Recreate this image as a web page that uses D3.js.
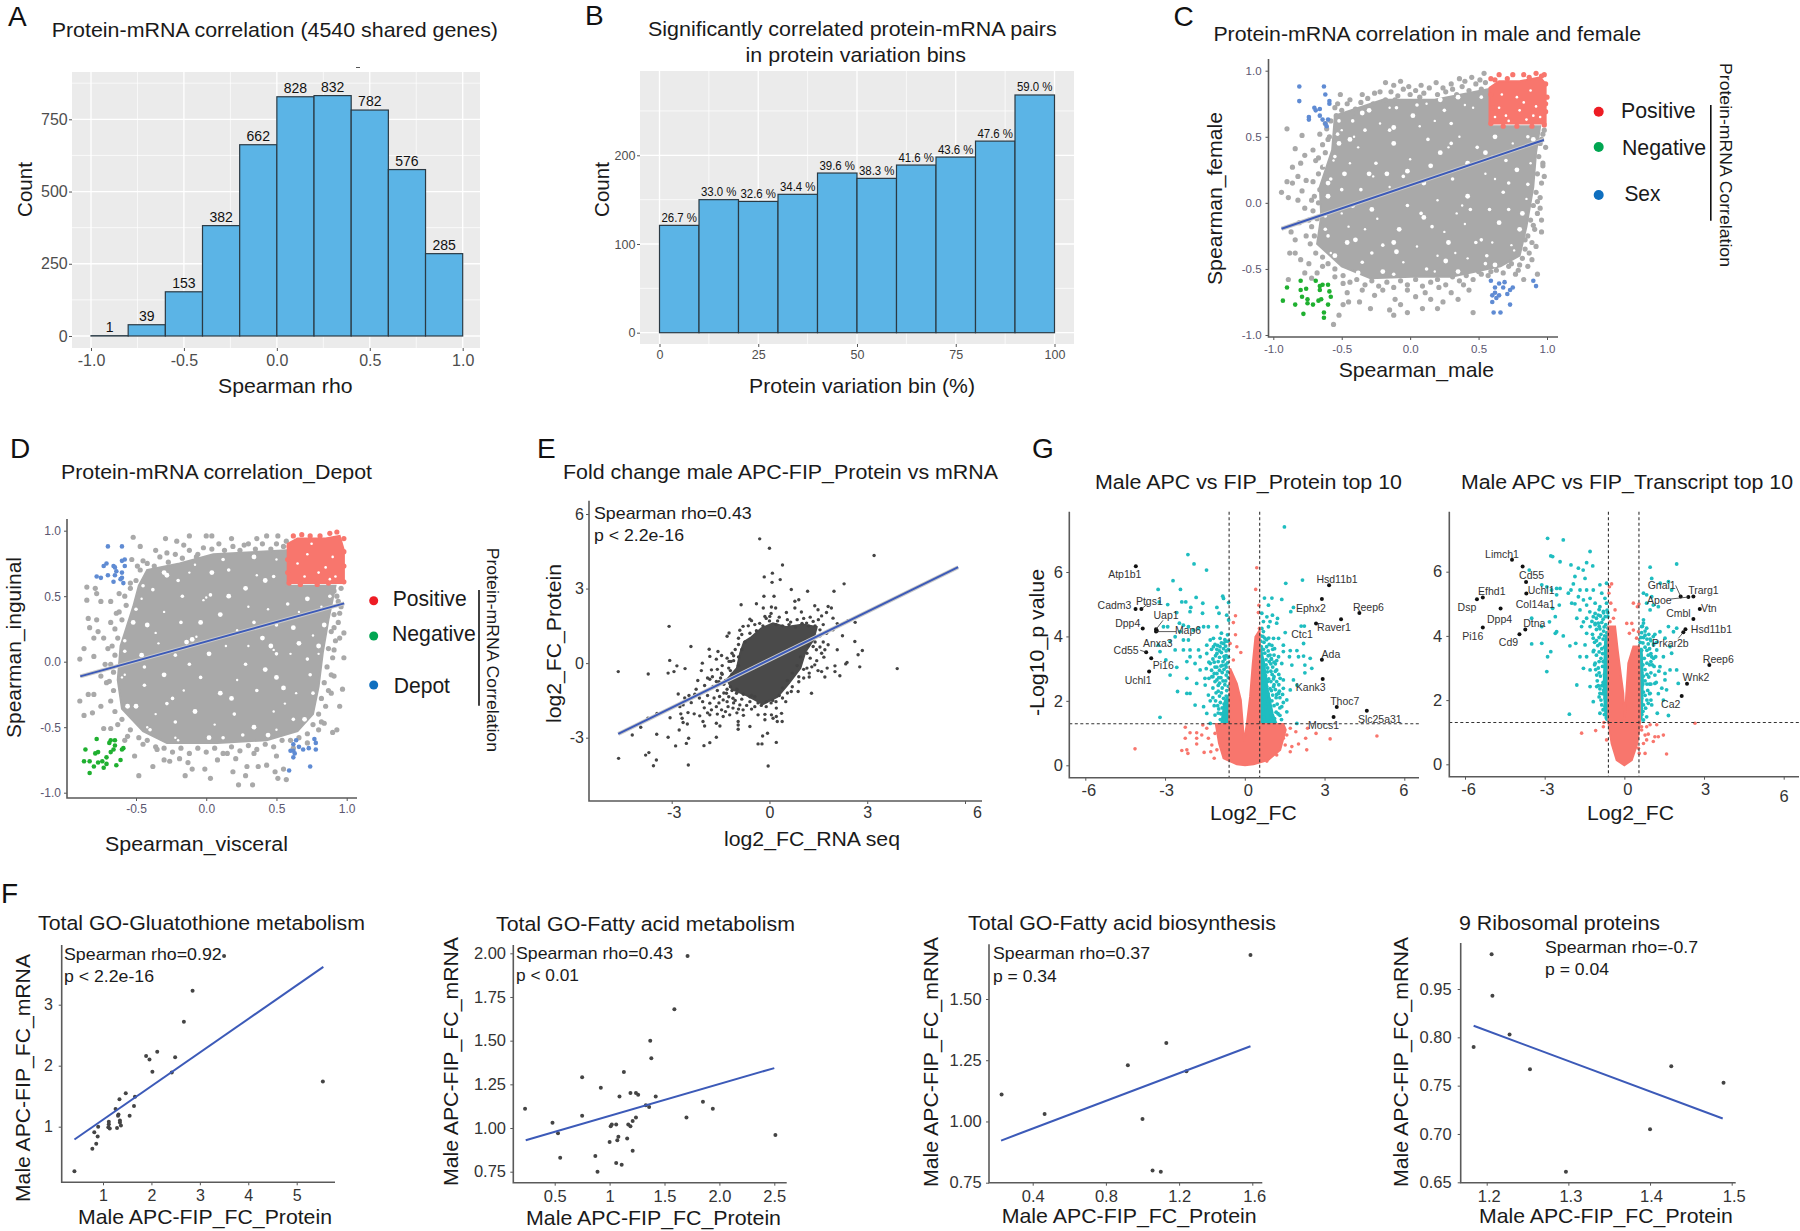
<!DOCTYPE html>
<html>
<head>
<meta charset="utf-8">
<script src="https://cdn.jsdelivr.net/npm/d3@7"></script>
<style>
  html, body { margin: 0; background: #fff; }
  svg { display: block; }
  text { font-family: "Liberation Sans", Arial, sans-serif; }
</style>
</head>
<body>
<script>
// A: histogram
const aBins = [-1, -0.8, -0.6, -0.4, -0.2, 0, 0.2, 0.4, 0.6, 0.8, 1];
const aCounts = [1, 39, 153, 382, 662, 828, 832, 782, 576, 285];
// B: histogram
const bBins = [0, 10, 20, 30, 40, 50, 60, 70, 80, 90, 100];
const bCounts = [121, 150, 148, 156, 180, 174, 189, 198, 216, 268];
const bLabels = ["26.7 %", "33.0 %", "32.6 %", "34.4 %", "39.6 %", "38.3 %", "41.6 %", "43.6 %", "47.6 %", "59.0 %"];

// C: male vs female
const cCore = [[-.55,.66],[-.2,.78],[.18,.78],[.57,.86],[.59,.58],[.95,.58],[.92,.38],[.9,.12],[.85,-.18],[.8,-.4],[.66,-.48],[.3,-.56],[.01,-.56],[-.29,-.57],[-.5,-.48],[-.68,-.31],[-.65,-.1],[-.66,.12],[-.57,.4]];
const cLoose = [[-.9,.56],[-.94,.08],[-.9,.16],[-.86,.15],[-.89,.04],[-.82,.02],[-.79,.51],[-.84,.41],[-.8,.3],[-.86,.27],[-.77,.36],[-.71,.4],[-.69,.32],[-.82,.2],[-.76,.17],[-.79,.09],[-.72,.02],[-.77,-.04],[-.74,-.13],[-.81,-.15],[-.87,-.22],[-.84,-.28],[-.88,-.38],[-.84,-.38],[-.76,-.25],[-.8,-.43],[-.74,-.46],[-.68,-.53],[-.89,-.58],[-.77,-.53],[-.72,-.57],[-.64,-.48],[-.51,.82],[-.53,.75],[-.46,.75],[-.35,.82],[-.26,.83],[-.18,.91],[-.07,.92],[-.12,.89],[-.01,.88],[.08,.89],[.19,.91],[.24,.87],[.36,.94],[.45,.95],[.54,.98],[.3,.9],[.4,.92],[.51,.93],[-.54,.66],[-.42,.68],[-.29,.73],[-.11,.78],[.07,.8],[-.62,.6],[-.66,.52],[-.6,.48],[.96,-.13],[.93,.01],[.95,-.04],[.9,-.17],[.96,-.22],[.92,-.33],[.89,-.43],[.84,-.28],[.86,-.48],[.79,-.51],[.74,-.46],[.93,-.54],[.83,-.58],[.77,-.54],[.52,-.54],[.43,-.66],[.46,-.83],[.35,-.73],[.3,-.68],[.24,-.75],[.15,-.73],[.2,-.8],[.09,-.8],[.11,-.68],[.04,-.71],[-.02,-.83],[-.07,-.77],[-.12,-.85],[-.15,-.81],[-.11,-.73],[-.29,-.8],[-.26,-.7],[-.37,-.75],[-.45,-.75],[-.49,-.77],[-.52,-.85],[-.56,-.92],[-.46,-.68],[-.35,-.66],[-.2,-.66],[-.02,-.66],[.21,-.64],[.39,-.62],[.59,-.52],[-.55,-.56],[-.49,-.61],[.97,.3],[.98,.2],[.95,.45],[.97,.52],
  [-.58,.62],[-.55,.72],[-.5,.7],[-.44,.78],[-.4,.71],[-.36,.76],[-.31,.79],[-.27,.75],[-.22,.84],[-.18,.78],[-.14,.84],[-.09,.81],[-.05,.86],[0,.82],[.04,.85],[.1,.83],[.14,.87],[.2,.82],[.26,.84],[.31,.86],[.34,.82],[.38,.88],[.43,.85],[.48,.9],[.52,.86],[.55,.91],[.98,.55],[.96,.48],[.99,.42],[.94,.35],[.97,.28],[.93,.22],[.96,.15],[.92,.08],[.95,.04],[.9,-.02],[.93,-.08],[.88,-.13],[.91,-.2],[.86,-.25],[.89,-.3],[.84,-.35],[.87,-.38],[.82,-.42],[.8,-.47],[.72,-.48],[.68,-.53],[.63,-.51],[.57,-.55],[.5,-.52],[.46,-.58],[.41,-.55],[.36,-.59],[.31,-.56],[.26,-.62],[.2,-.58],[.15,-.6],[.09,-.63],[.04,-.58],[-.02,-.62],[-.07,-.59],[-.12,-.64],[-.17,-.6],[-.23,-.63],[-.28,-.59],[-.33,-.62],[-.39,-.58],[-.44,-.6],[-.49,-.55],[-.55,-.5],[-.6,-.46],[-.64,-.41],[-.69,-.38],[-.73,-.31],[-.7,-.25],[-.72,-.18],[-.68,-.12],[-.71,-.06],[-.67,0],[-.7,.05],[-.66,.1],[-.71,.16],[-.67,.22],[-.64,.27],[-.67,.34],[-.62,.38],[-.64,.44],[-.59,.5],[-.61,.56]];
const cHoles = [[-.5,.55],[-.42,.62],[-.3,.7],[-.22,.6],[-.1,.72],[.02,.66],[.12,.75],[.25,.7],[.35,.8],[.46,.72],[-.55,.35],[-.48,.22],[-.38,.42],[-.25,.3],[-.12,.45],[0,.33],[.13,.48],[.22,.38],[.36,.5],[.49,.42],[.62,.5],[.75,.45],[.86,.5],[-.6,.05],[-.5,-.08],[-.36,.1],[-.28,-.05],[-.15,.12],[-.02,-.02],[.1,.15],[.2,.02],[.31,.18],[.42,.05],[.55,.22],[.68,.08],[.78,.25],[.85,.03],[-.6,-.25],[-.46,-.3],[-.33,-.2],[-.2,-.32],[-.08,-.2],[.05,-.33],[.16,-.18],[.28,-.3],[.4,-.16],[.52,-.28],[.65,-.15],[.74,-.32],[-.35,-.45],[-.2,-.52],[-.05,-.45],[.12,-.5],[.26,-.44],[.42,-.42],[.56,-.4],[.62,-.47],[-.63,.28],[-.58,.18],[-.52,.45],[-.44,.3],[-.62,-.1],[-.55,-.4],[-.45,-.18],[-.33,.55],[-.17,.22],[.07,.58],[.3,.6],[.42,.3],[.6,.35],[.72,-.05],[.8,-.2],[.34,-.08],[.58,-.05],[-.1,-.37],[.2,-.4],
  [-.52,.62],[-.35,.68],[-.15,.72],[.05,.74],[.22,.78],[.4,.74],[.52,.8],[.9,.48],[.88,.3],[.86,.14],[.82,-.08],[.76,-.36],[.55,-.46],[.35,-.52],[.18,-.52],[-.12,-.54],[-.38,-.53],[-.58,-.38],[-.62,-.2],[-.6,.15],[-.56,.32],[-.53,.52],[-.44,.48],[-.41,.5],[-.15,.55],[-.12,.57],[.28,.42],[.3,.45],[.55,.38],[.18,.62],[-.05,.2],[-.02,.24],[.38,-.02],[.44,-.05],[.15,.28],[.62,.18],[.7,.32],[-.3,.22],[-.27,.2],[-.5,.1],[-.42,-.02],[-.24,-.12],[.08,-.08],[.1,-.11],[.25,-.22],[.48,-.3],[-.12,-.3],[.33,-.38],[-.28,-.38],[-.4,-.28],[.6,-.3],[.72,.15]];
const cRed = [[.58,.6],[.58,.87],[.65,.92],[.8,.92],[.95,.95],[.99,.9],[.99,.6]];
const cRedLoose = [[.65,.97],[.75,.97],[.92,.98],[.98,.97],[.83,.97],[.59,.94],[.62,.93],[.71,.94],[.99,.9],[1,.8],[.99,.69],[.98,.59],[.59,.6],[.68,.58],[.78,.58],[.89,.58],[.96,.96],[.87,.95],[.99,.75],[.6,.72],[.59,.82]];
const cRedHoles = [[.65,.72],[.7,.66],[.8,.7],[.85,.63],[.92,.73],[.88,.85],[.72,.62],[.78,.8],[.95,.65],[.67,.82],[.9,.66],[.62,.65],[.83,.76]];
const cBlue = [[-.81,.88],[-.63,.88],[-.62,.82],[-.81,.77],[-.59,.77],[-.59,.75],[-.7,.72],[-.69,.7],[-.66,.71],[-.74,.65],[-.74,.63],[-.66,.66],[-.64,.63],[-.6,.63],[-.62,.6],[-.61,.58],[.59,-.59],[.65,-.61],[.69,-.6],[.62,-.64],[.68,-.64],[.75,-.64],[.73,-.66],[.71,-.69],[.62,-.68],[.65,-.7],[.6,-.7],[.63,-.72],[.6,-.75],[.73,-.77],[.61,-.83],[.66,-.83],[.9,-.59],[.92,-.63]];
const cGreen = [[-.9,-.64],[-.8,-.59],[-.69,-.59],[-.66,-.63],[-.64,-.62],[-.6,-.62],[-.59,-.67],[-.58,-.71],[-.8,-.66],[-.76,-.65],[-.66,-.66],[-.79,-.71],[-.75,-.73],[-.93,-.74],[-.84,-.77],[-.75,-.76],[-.71,-.77],[-.67,-.74],[-.65,-.73],[-.6,-.77],[-.78,-.84],[-.63,-.83],[-.63,-.87]];
const cFitX = [-0.94, 0.977];
const cFitY = [-0.196, 0.476];

// D: visceral vs inguinal
const dCore = [[-.42,.7],[-.19,.75],[.05,.82],[.57,.85],[.57,.58],[.92,.58],[.87,.32],[.83,.07],[.8,-.19],[.76,-.4],[.65,-.53],[.43,-.6],[.08,-.62],[-.28,-.62],[-.45,-.53],[-.6,-.36],[-.63,-.14],[-.61,.12],[-.52,.42],[-.48,.58]];
const dLoose = [[-.52,.95],[-.47,.88],[-.36,.85],[-.29,.94],[-.21,.92],[-.12,.96],[-.16,.89],[0,.96],[.04,.96],[.18,.94],[.36,.94],[.43,.96],[.51,.96],[.57,.92],[.27,.89],[-.07,.8],[-.28,.83],[-.45,.77],[-.53,.78],[-.49,.73],[-.85,.57],[-.79,.56],[-.85,.47],[-.78,.52],[-.75,.46],[-.84,.33],[-.78,.32],[-.83,.26],[-.77,.23],[-.8,.18],[-.87,.1],[-.9,.02],[-.8,.04],[-.73,.18],[-.68,.3],[-.64,.37],[-.68,.46],[-.62,.52],[-.54,.6],[-.9,-.3],[-.87,-.41],[-.84,-.25],[-.8,-.25],[-.81,-.39],[-.75,-.34],[-.73,-.51],[-.68,-.51],[-.63,-.48],[-.71,-.16],[-.75,-.11],[-.56,-.57],[-.51,-.72],[-.48,-.87],[-.38,-.8],[-.45,-.63],[-.35,-.67],[-.3,-.75],[-.26,-.76],[-.15,-.87],[-.1,-.82],[.03,-.89],[-.01,-.82],[-.19,-.74],[-.13,-.77],[.19,-.84],[.23,-.94],[.29,-.8],[.28,-.87],[.33,-.94],[.37,-.8],[.43,-.79],[.49,-.84],[.51,-.89],[.57,-.9],[.55,-.82],[.21,-.74],[.08,-.75],[.15,-.7],[.34,-.7],[.5,-.72],[.84,-.47],[.9,-.54],[.93,-.52],[.95,-.34],[.97,-.21],[.89,-.24],[.91,-.11],[.98,.03],[.91,.09],[.95,.18],[.91,.26],[.98,.22],[.95,.37],[.91,.54],[.94,.46],[-.72,-.02],[-.7,.1],[-.58,-.6],[.72,-.62],[.62,-.66],[.8,-.52],
  [-.5,.62],[-.47,.7],[-.42,.75],[-.37,.73],[-.33,.8],[-.27,.76],[-.22,.82],[-.17,.79],[-.12,.85],[-.06,.82],[-.02,.87],[.04,.86],[.09,.9],[.13,.85],[.19,.88],[.24,.85],[.3,.9],[.35,.86],[.4,.9],[.46,.86],[.5,.9],[.55,.88],[.96,.56],[.93,.5],[.96,.42],[.91,.36],[.94,.3],[.89,.23],[.92,.16],[.87,.1],[.9,.03],[.86,-.04],[.89,-.1],[.84,-.16],[.87,-.22],[.82,-.28],[.85,-.34],[.8,-.4],[.82,-.46],[.76,-.48],[.72,-.55],[.66,-.58],[.6,-.6],[.54,-.6],[.48,-.65],[.42,-.63],[.36,-.67],[.3,-.64],[.24,-.68],[.18,-.65],[.12,-.7],[.06,-.66],[0,-.69],[-.06,-.66],[-.12,-.7],[-.18,-.66],[-.24,-.69],[-.3,-.66],[-.36,-.65],[-.42,-.6],[-.48,-.58],[-.54,-.52],[-.6,-.44],[-.65,-.38],[-.68,-.3],[-.66,-.22],[-.69,-.15],[-.66,-.08],[-.68,-.02],[-.65,.05],[-.67,.12],[-.63,.18],[-.65,.25],[-.6,.32],[-.62,.38],[-.57,.43],[-.58,.5],[-.54,.56]];
const dHoles = [[0,.49],[-.17,.5],[.04,.68],[.36,.66],[.48,.65],[-.1,.17],[.48,.09],[-.38,.55],[-.28,.66],[-.12,.68],[.16,.7],[.28,.56],[.44,.4],[.58,.44],[.72,.48],[.82,.42],[-.5,.4],[-.42,.28],[-.3,.38],[-.18,.3],[.1,.36],[.22,.24],[.34,.3],[.62,.26],[.76,.2],[-.58,.16],[-.46,.05],[-.34,.14],[-.22,.05],[.02,.06],[.14,.12],[.28,-.02],[.4,.18],[.6,.06],[.72,.02],[.8,.12],[-.58,-.1],[-.44,-.18],[-.3,-.1],[-.16,-.22],[-.04,-.12],[.1,-.24],[.22,-.14],[.36,-.22],[.5,-.12],[.64,-.24],[.74,-.1],[-.5,-.34],[-.36,-.4],[-.22,-.46],[-.08,-.38],[.06,-.48],[.2,-.4],[.34,-.5],[.48,-.38],[.62,-.44],[-.04,.3],[.3,.12],[-.24,-.28],[.55,-.2],[-.42,-.5],[.12,-.58],[.44,-.56],[-.2,-.6],
  [-.45,.58],[-.3,.68],[-.08,.74],[.12,.78],[.34,.8],[.5,.78],[.88,.5],[.84,.28],[.8,.06],[.76,-.24],[.7,-.44],[.5,-.52],[.26,-.56],[.02,-.58],[-.22,-.58],[-.4,-.52],[-.56,-.34],[-.6,-.12],[-.58,.08],[-.52,.3],[-.46,.48],[-.2,.62],[.42,.62],[.66,.38],[.5,.28],[.16,.5],[-.36,.22],[-.12,-.02],[.42,-.06],[.56,-.32],[-.28,-.32],[.18,-.28],[.3,.42],[-.44,-.04],[.66,.14],[-.02,.47],[.03,.51],[-.14,.15],[-.07,.19],[.5,.06],[.46,.12]];
const dRed = [[.58,.6],[.58,.9],[.65,.94],[.85,.94],[.95,.96],[.98,.85],[.98,.6]];
const dRedLoose = [[.62,.96],[.68,.97],[.88,.98],[.93,.99],[.98,.94],[.98,.84],[.98,.73],[.98,.61],[.59,.6],[.67,.59],[.79,.59],[.87,.6],[.59,.88],[.74,.96],[.81,.96],[.58,.78],[.58,.68]];
const dRedHoles = [[.72,.82],[.9,.8],[.85,.72],[.7,.65],[.65,.75],[.8,.68],[.92,.65],[.75,.9],[.88,.63]];
const dBlue = [[-.7,.88],[-.6,.88],[-.58,.78],[-.6,.77],[-.71,.75],[-.73,.73],[-.66,.73],[-.65,.72],[-.58,.73],[-.64,.69],[-.65,.66],[-.7,.66],[-.78,.65],[-.75,.64],[-.6,.68],[-.6,.64],[-.66,.61],[-.61,.63],[-.59,.6],[.64,-.6],[.77,-.59],[.62,-.63],[.66,-.65],[.69,-.67],[.73,-.66],[.78,-.62],[.78,-.67],[.6,-.68],[.62,-.68],[.63,-.7],[.62,-.73],[.59,-.83],[.74,-.8]];
const dGreen = [[-.78,-.59],[-.86,-.67],[-.65,-.6],[-.68,-.6],[-.69,-.62],[-.65,-.64],[-.59,-.66],[-.6,-.67],[-.66,-.67],[-.68,-.69],[-.77,-.69],[-.79,-.7],[-.71,-.73],[-.61,-.75],[-.87,-.76],[-.83,-.76],[-.77,-.77],[-.74,-.76],[-.71,-.78],[-.8,-.8],[-.73,-.81],[-.64,-.79],[-.83,-.85]];
const dFitX = [-0.897, 0.982];
const dFitY = [-0.112, 0.445];

// E: fold change
const eCore = [[-.55,1.05],[-.25,1.4],[.11,1.6],[.52,1.45],[1.03,1.55],[1.45,1.45],[1.35,.95],[1.1,.45],[.95,-.2],[.6,-.8],[.25,-1.35],[-.2,-1.65],[-.7,-1.3],[-1.15,-1.05],[-1.3,-.65],[-1,-.2],[-.9,.4],[-.78,.85]];
const ePoints = [[-.3,5],[0,4.62],[3.21,4.33],[.4,3.95],[.09,3.62],[-.16,3.47],[.33,3.36],[.08,3.25],[2.29,3.19],[.67,2.96],[1.17,2.89],[1.98,2.89],[-.17,2.69],[.14,2.69],[.78,2.49],[.9,2.55],[-.87,2.35],[-.4,2.39],[-.19,2.22],[.06,2.26],[.19,2.22],[1.39,2.31],[1.8,2.28],[1.9,2.22],[.52,2.04],[.78,2.22],[.98,2.06],[1.49,2.15],[1.75,2.04],[-.6,1.77],[-.55,1.71],[-.14,1.88],[.01,1.88],[1.95,1.81],[-.81,1.48],[-.91,1.32],[-1.24,1.21],[-1.3,1.08],[-3.08,1.48],[-2.41,.67],[-1.85,.56],[-1.58,.47],[-1.83,.27],[-1.47,.31],[-1.63,.16],[-1.24,.07],[-1.18,.07],[-2.06,0],[-3.06,.11],[-2.84,-.11],[-2.59,-.22],[-2.93,-.34],[-3.11,-.4],[-3.72,-.44],[-4.64,-.34],[-2.09,-.3],[-1.78,-.27],[-1.47,-.4],[-1.83,-.65],[-1.63,-.74],[-1.99,-.9],[-1.73,-.94],[-2.8,-1.24],[-2.47,-1.3],[-2.29,-1.25],[-2.4,-1.59],[-2.65,-1.68],[-2.75,-1.75],[-3.45,-2.02],[-3.73,-2.22],[-2.72,-2.04],[-2.5,-1.99],[-2.31,-2.04],[-2.14,-2.12],[-2.68,-2.22],[-2.65,-2.39],[-2.52,-2.45],[-2.04,-2.35],[-1.63,-2.42],[-1.52,-2.53],[-1.99,-2.53],[-2.77,-2.69],[-3.46,-2.86],[-4.21,-2.89],[-3.95,-2.58],[-3.11,-2.98],[-2.88,-3.33],[-2.55,-3.23],[-2.48,-3.02],[-2.01,-3.32],[-1.83,-3.2],[-1.63,-2.98],[-4.63,-3.83],[-3.8,-3.7],[-3.7,-3.6],[-3.47,-3.9],[-3.56,-4.13],[-2.49,-4.1],[-.04,-4.14],[-.96,-2.35],[-.96,-2.49],[-.96,-2.66],[-.6,-2.55],[-.21,-2.93],[-.06,-2.82],[-.35,-3.25],[-.23,-3.25],[.21,-3.19],[-.14,-2.28],[.06,-2.08],[.21,-2.15],[.37,-2.02],[.11,-2.22],[.24,-2.35],[.39,-2.35],[-.35,-2.08],[-.14,-2.06],[.21,-1.81],[1.29,-1.21],[.88,-1.14],[.67,-1.14],[.5,-1.55],[3.92,-.22],[2.85,.51],[2.62,.87],[2.72,.34],[2.77,-.15],[2.38,.03],[2.34,-.03],[2.16,-.51],[2.01,-.34],[2.01,-.11],[1.77,-.2],[1.7,-.56],[1.6,-.34],[1.49,-.3],[1.39,-.07],[1.22,-.56],[1.22,-.4],[2.08,.54],[2.24,1.1],[2.63,1.64],[2.41,1.71],[2.08,1.59],[1.95,1.34],[1.8,.74],[1.7,.54],[1.6,.4],[1.67,.24],[1.44,.54],[1.34,.67],[1.55,1.34],[1.34,1.68],[1.14,1.61],[-1.53,-1.34],[-1.42,-1.48],[-1.63,-1.75],[-1.47,-1.88],[-1.27,-1.75],[-1.12,-1.81],[-.91,-1.68],[-.81,-1.88],[-.6,-1.55],[-.45,-1.75],[-1.83,-2.08],[-1.78,-1.88],[-1.22,-2.08],[-1.42,-2.15],[-1.83,-1.61],[-1.12,-1.41],[-1.32,-1.21],[-1.01,-1.21],[-.6,1.2],[-.4,1.3],[-.2,1.5],[0,1.7],[.2,1.55],[.4,1.5],[.6,1.55],[.8,1.45],[1,1.6],[1.2,1.5],[1.4,1.5],[1.55,1.1],[1.4,.85],[1.2,.7],[1.15,.4],[.95,.25],[.85,-.1],[.7,-.4],[.55,-.7],[.4,-1],[.3,-1.3],[.1,-1.5],[-.1,-1.55],[-.35,-1.6],[-.55,-1.3],[-.8,-1.25],[-1,-1.05],[-1.2,-.95],[-1.35,-.7],[-1.15,-.45],[-.95,-.1],[-.95,.25],[-.85,.55],[-.75,.85],[-1.5,-.6],[-1.4,-.85],[-1.6,-.9],[-1.3,-1.05],[-1.2,-.3],[-1.1,.1],[1.1,.9],[1.25,.2],[1.05,-.25],[.9,-.55],[-.65,1.5],[.55,1.75],[.3,1.85],
  [-1.4,-1.2],[-1.6,-1.1],[-1.25,-1.35],[-1.05,-1.5],[-.85,-1.45],[-.7,-1.7],[-.55,-1.85],[-.95,-1.85],[-1.1,-1.6],[-1.3,-1.55],[-1.55,-1.6],[-1.7,-1.4],[-1.9,-1.3],[-2.05,-1.55],[-2,-1.8],[-1.9,-2],[-1.6,-2.05],[-1.35,-1.95],[-1,-2],[-.8,-2.1],[-.6,-1.35],[-.45,-1.35],[-.25,-1.7],[-.1,-1.75],[.05,-1.6],[.2,-1.55],[.4,-1.4],[.55,-1.2],[.7,-.95],[.9,-.75],[1.05,-.6],[1.15,-.2],[1.3,-.15],[1.45,.1],[1.55,.65],[1.65,.85],[1.75,1.2],[1.65,1.55],[1.5,1.75],[1.6,1.9],[-.3,1.6],[-.45,1.55],[-.1,1.8],[.05,2],[.25,1.7],[.65,1.65],[.85,1.75],[1.05,1.8],[1.25,1.85],[-.95,.75],[-1.05,.55],[-1.15,.4],[-1.3,.2],[-1.45,-.1],[-1.6,-.25],[-1.75,-.55],[-1.9,-.6],[-2.2,-.7],[-1.25,-.2],[-1.1,.3],[-.95,1],[-.85,1.15],[-1.55,-.75],[-1.15,-1.1],[-1.45,-.45],[-2.25,-1.05],[-2.15,-1.4],[-2.6,-1.4],[-3.05,-2.2]];
const eFitX = [-4.64, 5.79];
const eFitY = [-2.85, 3.86];

// G: volcano, protein
const g1Red = [[-1.09,1.28],[-.97,.68],[-.8,.22],[-.3,.03],[.01,0],[.33,.03],[.89,.17],[1.33,.48],[1.54,1.1],[1.45,1.28],[.56,1.28],[.56,4.2],[.4,3.99],[.3,3.16],[.2,2.13],[.08,1.3],[-.03,.73],[-.08,1.3],[-.15,2.03],[-.3,2.54],[-.55,3.01],[-.59,1.28]];
const g1RedLoose = [[.45,6.13],[.41,5.46],[.53,4.97],[.51,4.74],[-.35,4.64],[-.43,4.43],[-.35,4.05],[-.55,3.78],[-.3,3.68],[-.15,3.5],[-.43,3.27],[.55,4.25],[-4.13,.51],[4.97,.91],[3.21,.82],[2.68,.99],[2.33,.48],[2.29,.84],[2.36,1.15],[1.92,1.04],[2.02,.66],[1.71,.42],[1.77,.58],[1.52,.63],[1.58,.94],[1.2,.32],[.83,.13],[1.71,1.15],[1.45,.84],[-1.58,1.25],[-2.24,1.18],[-2.06,1.01],[-1.81,1.01],[-2.24,.84],[-1.81,.84],[-1.81,.66],[-2.37,.46],[-2.18,.48],[-2.14,.37],[-1.53,.4],[-1.15,.22],[-1.24,.63],[-1.37,.84],[-1.12,.99],[-1.43,1.15],[-1.28,.42],[-1.05,.48],[-1.62,.94]];
const g1TealRight = [[.56,1.28],[.56,3.8],[.72,3.2],[.85,2.4],[1.05,1.6],[1.2,1.28]];
const g1TealLeft = [[-.59,1.28],[-.59,2.2],[-.75,2],[-.85,1.5],[-.88,1.28]];
const g1Teal = [[1.49,7.4],[-2.14,6.54],[-1.91,6.25],[-1.44,6.06],[-2.7,5.73],[-3.26,5.46],[-2.42,5.46],[2.17,5.75],[1.54,5.65],[-1.83,5.21],[-.83,5.25],[-.61,5.05],[-.8,5.18],[-2.37,5.07],[-2.22,5.07],[-2.9,4.99],[-3.22,5.07],[-1.58,5.03],[-2.03,4.9],[-1.05,4.9],[-2.06,4.77],[-.97,4.72],[-.68,4.66],[-.61,4.51],[-1.59,4.72],[-2.56,4.74],[.74,5.19],[1.02,5.19],[1.39,5.15],[.89,4.97],[1.83,4.9],[1.73,4.77],[.64,4.72],[.83,4.61],[1.04,4.66],[1.23,4.56],[.95,4.46],[1.2,4.41],[.7,4.46],[.64,4.25],[.89,4.3],[1.52,4.12],[2.12,4.32],[2.24,4.32],[.7,4.15],[1.08,3.94],[1.27,3.94],[2.21,3.78],[-2.9,4.3],[-3.06,4.3],[-2.46,4.41],[-2.31,4.35],[-2.12,4.3],[-1.93,4.2],[-1.74,4.25],[-1.55,4.3],[-1.37,4.3],[-1.05,4.3],[-2.43,4.15],[-2.12,3.89],[-2.31,3.89],[-2.62,3.99],[-2.81,3.84],[-3.25,3.73],[-3.19,3.53],[-2.62,3.58],[-2.31,3.58],[-2.06,3.58],[-1.74,3.58],[-1.43,3.73],[-1.18,3.94],[-.93,3.94],[-1.3,3.89],[-.93,3.68],[-.8,3.78],[-1.18,3.68],[-1.05,3.47],[-1.43,3.47],[-1.68,3.37],[-2.06,3.37],[-1.87,3.16],[-2.18,3.22],[-2.56,3.04],[-2.97,3.27],[-2.81,2.8],[-2.18,2.7],[-1.81,2.54],[-1.49,2.49],[-1.68,2.96],[-1.3,3.16],[-1.24,2.75],[-2.06,2.23],[-2.53,2.29],[-2.18,2.23],[-1.87,1.87],[-1.55,1.82],[-1.37,2.18],[-1.43,1.61],[-1.12,1.56],[-3.19,1.49],[-1.3,1.3],[1.45,3.73],[1.45,3.53],[1.71,3.56],[1.96,3.56],[1.68,3.37],[2.02,3.37],[2.21,3.39],[2.46,3.32],[1.27,3.37],[1.39,3.16],[1.77,3.11],[2.26,3.11],[2.52,3.01],[2.26,2.87],[1.2,2.96],[1.45,2.65],[1.83,2.65],[1.96,2.49],[1.45,2.39],[1.71,2.34],[1.27,2.23],[1.58,2.03],[1.39,1.82],[1.58,1.66],[1.96,1.3],[1.08,2.44],[1.33,2.7],[-.75,3.3],[-.7,3.05],[-.85,3.1],[-1.05,3.05],[-.95,3.35],[-.7,3.55],[-1.2,3.3],[-.75,3.9],[1,3.3],[1.05,3.6],[.9,3.95],[1.15,3.15],[1.2,2.6],[-1.2,2.4],[-1.3,2],[-1.15,1.85],
  [.62,1.4],[.72,1.5],[.85,1.42],[1,1.55],[1.12,1.45],[1.25,1.6],[1.38,1.42],[.65,1.75],[.8,1.8],[.95,1.72],[1.1,1.85],[1.22,1.9],[1.32,1.78],[.62,2.05],[.78,2.12],[.92,2.05],[1.05,2.18],[1.18,2.1],[.65,2.4],[.82,2.45],[.95,2.38],[1.15,2.35],[1.28,2.5],[.62,2.72],[.78,2.78],[.9,2.68],[1.03,2.82],[1.15,2.92],[1.28,2.82],[.65,3.05],[.8,3.12],[.92,3.22],[1.05,3.05],[1.1,3.42],[.62,3.35],[.75,3.48],[.88,3.55],[1.02,3.72],[.62,3.68],[.72,3.82],[.82,3.9],[.6,4.02],[.68,4],[.92,3.75],[1.12,3.62],[1.2,3.25],
  [.6,1.6],[.68,1.72],[.75,1.95],[.88,1.9],[1.02,2],[.6,2.25],[.72,2.3],[.88,2.22],[1,2.32],[1.1,2.5],[.62,2.55],[.72,2.55],[.85,2.6],[.98,2.6],[1.08,2.68],[.7,2.9],[.85,2.9],[.98,2.92],[.6,3],[.72,3.05],[.86,3.02],[.98,3.15],[.68,3.22],[.8,3.28],[1,3.3],[.6,3.5],[.7,3.6],[.82,3.68],[.95,3.42],[.6,3.85],[.75,3.95],[.88,3.4],[1.1,3.2],[1.1,2.75],[1.2,2.2],[1.32,2.1],[1.42,2.2],[1.3,2.3],[1.45,1.95],[1.18,1.65],[1.32,1.55],
  [-.65,1.4],[-.78,1.48],[-.92,1.42],[-1,1.62],[-.72,1.72],[-.85,1.78],[-1.02,1.85],[-.65,2],[-.8,2.08],[-.95,2.15],[-1.08,2.25],[-1.2,2.1],[-.68,2.32],[-.85,2.4],[-1,2.48],[-1.12,2.6],[-.72,2.62],[-.9,2.72],[-1.05,2.85],[-.65,2.9],[-.78,2.98],[-.95,2.95],[-1.12,3.05],[-1.25,2.95],[-.65,3.18],[-.82,3.22],[-1,3.22],[-.7,3.4],[-.88,3.5],[-1.1,3.4],[-.62,3.6],[-.8,3.62],[-1.02,3.72],[-.72,3.85],[-.65,4.05],[-.88,4.1],[-1.25,3.6],[-1.35,2.7],
  [-.62,1.55],[-.7,1.6],[-.9,1.6],[-.98,1.75],[-.62,1.85],[-.78,1.9],[-.92,1.95],[-1.1,2],[-.7,2.15],[-.88,2.25],[-1,2.3],[-.62,2.45],[-.75,2.5],[-.95,2.55],[-1.05,2.65],[-.62,2.72],[-.82,2.62],[-.98,2.72],[-1.2,2.75],[-.7,2.8],[-.85,2.88],[-1.15,2.85],[-.9,3.08],[-.72,3.12],[-1.15,3.2],[-.62,3.35],[-.78,3.38],[-.95,3.55],[-1.05,3.6],[-.72,3.7],[-.88,3.8],[-1.12,3.75],[-.62,3.85],[-1.35,3.2],[-1.45,3],[-1.5,2.7]];
const g1Genes = ["Atp1b1","Cadm3","Ptgs1","Dpp4","Uap1","Map6","Anxa3","Cd55","Pi16","Uchl1","Hsd11b1","Ephx2","Raver1","Reep6","Ctc1","Ada","Kank3","Thoc7","Slc25a31","Mocs1"];
const g1GeneX = [-4.1,-4.11,-3.89,-3.84,-3.34,-3.34,-3.31,-3.71,-3.52,-3.6,3.17,2.9,3.62,4.31,2.68,2.9,2.93,3.46,4.59,3.34];
const g1GeneY = [6.18,4.85,4.85,4.25,4.22,4.15,4.18,3.51,3.32,2.91,5.59,5.16,4.53,4.73,4.4,3.28,2.68,1.81,1.69,1.5];

// G: volcano, transcript
const g2Red = [[-.6,1.3],[-.48,.65],[-.29,.13],[0,-.03],[.28,.13],[.49,.65],[.59,1.3],[.55,3.67],[.34,3.67],[.15,3.15],[.09,2.42],[.01,1.38],[-.04,2.21],[-.14,2.83],[-.25,3.56],[-.35,4.29],[-.6,4.29]];
const g2RedLoose = [[-.48,5.62],[-.56,5.53],[-.58,5.33],[-.51,5.02],[-.35,4.81],[-.41,4.55],[-.54,4.44],[.34,5.02],[.49,4.91],[.55,4.99],[.28,4.39],[.09,4.39],[.19,4.08],[.34,4.18],[.53,4.13],[.46,3.93],[-1.61,.97],[-1.08,1.05],[-.79,1.17],[-.67,.76],[-.77,1.3],[2.66,1.28],[1.59,.32],[1.22,1.23],[1.28,.86],[1.47,.91],[1.15,.86],[.84,1.17],[.97,1.23],[.65,1.07],[.78,.91],[.9,.94],[.72,.65],[.84,.76],[.53,.5],[.78,.34],[.56,.34],[1.09,.71],[.65,1.17]];
const g2TealLeft = [[-.6,1.3],[-.6,4.1],[-.72,3.9],[-.75,3.2],[-.78,2.4],[-.72,1.6]];
const g2TealRight = [[.55,1.3],[.55,3.6],[.65,3.6],[.7,2.6],[.66,1.6],[.6,1.3]];
const g2Teal = [[-2.89,7.04],[-2.3,6.99],[-1.29,6.63],[-2.77,6.49],[-2.7,6.47],[-2.42,6.31],[-2.01,6.21],[-1.73,6.11],[-1.42,6.28],[-1.19,6.18],[-1.55,6.05],[-3.58,6.05],[-1.86,5.85],[-1.48,5.79],[1.97,6.24],[.97,6.14],[1.03,5.79],[1.35,5.64],[1.66,5.69],[1.78,5.43],[-.67,5.64],[-.92,5.59],[-1.92,5.62],[-2.01,5.43],[-2.11,5.33],[-2.42,5.48],[-2.55,5.48],[-2.74,5.43],[-2.92,5.53],[-3.11,5.59],[-2.55,5.28],[-2.45,4.96],[-2.7,4.86],[-2.6,4.6],[-2.82,4.44],[-3.49,4.55],[-3.11,4.29],[-2.6,4.08],[-2.55,4.13],[-2.3,4],[-3.49,3.75],[-3.11,3.77],[-2.77,3.51],[-2.89,3.35],[-2.92,2.89],[-2.07,1.56],[-1.79,2.47],[-2.05,3.69],[-1.83,3.77],[-1.67,5.43],[-1.42,5.43],[-1.17,5.43],[-.85,5.33],[-.73,5.17],[-1.29,5.17],[-1.54,5.12],[-1.73,5.22],[-1.98,5.02],[-1.86,5],[-1.67,4.81],[-1.42,4.96],[-1.1,5.02],[-.92,4.91],[-.67,5.02],[-.79,4.76],[-.98,4.65],[-1.17,4.6],[-1.42,4.55],[-1.79,4.55],[-1.54,4.44],[-1.29,4.29],[-1.1,4.39],[-1.61,4.29],[-1.42,4.08],[-1.17,3.93],[-1.48,3.72],[-1.67,3.35],[-1.42,3.35],[-1.17,3.51],[-1.54,2.99],[-1.29,2.94],[-1.1,3.15],[-1.04,2.78],[-1.29,2.42],[-1.04,2.42],[-.92,2.21],[-1.17,1.95],[-.67,1.9],[-.73,1.8],[-.92,1.59],[.72,5.33],[.84,5.28],[1.03,5.22],[.84,5.02],[.97,4.81],[1.28,4.91],[1.09,4.96],[.72,4.5],[.65,4.29],[.84,4.24],[1.09,3.98],[1.34,4.13],[1.66,4.29],[1.97,4.24],[1.85,4.13],[1.53,3.93],[1.72,3.67],[1.78,3.46],[1.47,3.35],[1.22,3.56],[1.03,3.35],[1.34,3.04],[1.72,2.94],[1.97,2.94],[1.53,2.83],[1.15,2.78],[1.15,2.52],[1.53,2.63],[2.03,2.52],[1.41,2.37],[1.59,2.32],[.97,2.21],[1.47,2],[1.03,1.85],[1.66,1.52],[1.24,1.59],[.84,1.48],[.72,1.38],[.97,3.9],[1.05,3.1],[.95,2.5],[1,2],[1.1,3.75],
  [-.65,1.4],[-.75,1.55],[-.7,1.75],[-.85,1.85],[-.72,2.05],[-.82,2.2],[-.95,2.1],[-.7,2.35],[-.85,2.45],[-1.02,2.6],[-.72,2.65],[-.9,2.75],[-.68,2.95],[-.82,3.05],[-.98,3],[-.72,3.25],[-.88,3.3],[-1.05,3.4],[-.7,3.5],[-.85,3.6],[-1,3.7],[-.68,3.8],[-.8,3.9],[-.95,3.95],[-1.12,3.8],[-.66,4.1],[-.78,4.15],[-.92,4.22],[-1.05,4.2],[-.7,4.35],[-.85,4.42],[-.98,4.4],[-.72,4.6],[-.62,4.6],[-.65,4.8],[-.9,4.62],
  [-.68,1.45],[-.8,1.7],[-.66,1.9],[-.88,2],[-.78,2.3],[-.92,2.35],[-.66,2.5],[-.98,2.45],[-.8,2.55],[-.95,2.85],[-1.08,2.95],[-.75,2.8],[-.66,3.1],[-.8,3.2],[-.95,3.2],[-1.12,3.1],[-.66,3.35],[-.82,3.45],[-.95,3.5],[-1.15,3.55],[-.75,3.65],[-.92,3.75],[-1.05,3.85],[-.74,4],[-.88,4.05],[-1.2,4.05],[-.62,4.25],[-.76,4.28],[-.95,4.3],[-1.1,4.35],[-.8,4.52],[-1.05,4.55],[-.62,4.72],[-.78,4.72],[-.95,4.82],[-1.1,4.7],[-1.3,4.75],[-1.22,4.45],
  [.62,1.45],[.7,1.65],[.8,1.75],[.9,1.9],[.65,2.05],[.78,2.15],[.88,2.3],[1,2.5],[.65,2.45],[.78,2.6],[.92,2.72],[.65,2.85],[.78,2.95],[.95,3.1],[1.12,3.05],[.62,3.2],[.75,3.3],[.9,3.4],[1.1,3.3],[.65,3.55],[.78,3.65],[.95,3.6],[1.1,3.72],[.6,3.8],[.72,3.95],[.85,3.9],[.65,4.1],[.78,4.15],[.92,4.05],[.72,4.4],[1.22,3.8],[1.3,2.9],
  [.66,1.55],[.72,1.85],[.6,1.75],[.85,2],[.72,2.25],[.95,2.2],[.6,2.3],[.7,2.5],[.85,2.5],[.72,2.75],[.85,2.8],[.62,2.65],[1,2.85],[.7,3.1],[.85,3.15],[1,3.2],[.62,3.4],[.85,3.55],[1,3.45],[.7,3.78],[.9,3.75],[.62,3.95],[.78,4.02],[1,3.85],[.68,4.3],[1.15,4.05],[1.18,3.35],[1.2,2.55],[1.28,2.2]];
const g2Genes = ["Limch1","Cd55","Uchl1","Col14a1","Efhd1","Dsp","Dpp4","Pi16","Cd9","Dtna","Gnai1","Apoe","Trarg1","Vtn","Cmbl","Hsd11b1","Prkar2b","Reep6","Wnk2","Ca2"];
const g2GeneX = [-4.23,-3.83,-3.7,-3.69,-5.33,-5.55,-4.66,-5.33,-3.95,-3.73,2.12,2.41,2.6,2.84,2.6,2.3,2.22,3.2,2.36,2.16];
const g2GeneY = [6.37,6.16,5.68,5.32,5.2,5.14,4.85,4.26,4.05,4.2,5.23,5.21,5.23,4.84,4.53,4.21,4.11,3.09,2.51,2.13];

// F: four small scatters
const f1Points = [[3.5,3.8],[2.85,3.23],[2.67,2.72],[2.12,2.23],[1.89,2.16],[1.96,2.1],[2.49,2.14],[2.02,1.9],[2.42,1.89],[5.54,1.74],[1.47,1.55],[1.66,1.49],[1.34,1.45],[1.64,1.34],[1.26,1.29],[1.55,1.18],[1.32,1.2],[1.31,1.18],[1.12,1.08],[1.12,1.04],[1.11,.99],[1.14,.97],[1.35,1.1],[1.35,1.07],[1.37,1.02],[1.29,.98],[.9,1],[.82,.91],[.89,.84],[.86,.72],[.78,.64],[.41,.27]];
const f1FitX = [0.41, 5.55];
const f1FitY = [0.79, 3.62];
const f2Points = [[1.71,1.985],[1.59,1.68],[1.37,1.5],[1.38,1.4],[1.13,1.32],[.75,1.29],[.92,1.23],[.23,1.11],[.75,1.07],[.48,1.03],[.53,.97],[.55,.83],[1.09,1.18],[1.19,1.2],[1.24,1.2],[1.26,1.19],[1.42,1.18],[1.33,1.13],[1.36,1.12],[1.85,1.15],[1.94,1.11],[1.7,1.06],[2.51,.96],[1.24,1.06],[1.21,1.04],[1.06,1.02],[1.01,1.01],[1.02,1.02],[1.17,1.02],[1.19,1.01],[1,.92],[1.08,.95],[1.07,.93],[1.16,.94],[1.21,.87],[.87,.84],[.89,.75],[1.06,.8],[1.11,.79]];
const f2FitX = [0.236, 2.5];
const f2FitY = [0.93, 1.343];
const f3Points = [[1.59,1.68],[1.13,1.32],[.92,1.23],[1.24,1.205],[.23,1.11],[.465,1.03],[1,1.01],[1.055,.8],[1.1,.795]];
const f3FitX = [0.227, 1.59];
const f3FitY = [0.922, 1.307];
const f4Points = [[1.206,.886],[1.207,.843],[1.228,.803],[1.184,.79],[1.253,.767],[1.426,.77],[1.49,.753],[1.4,.705],[1.297,.661]];
const f4FitX = [1.184, 1.489];
const f4FitY = [0.812, 0.716];
const f4YTickLabels = ["0.65", "0.70", "0.75", "0.80", "0.95"];

const red = "#f8766d", gray = "#a9a9a9", teal = "#1fbdc0", fit = "#3c5ab8";

const svg = d3.select("body").append("svg").attr("width", 1800).attr("height", 1231);

// text stretched between two measured x positions
function hText(s, x0, x1, base, size, fill) {
  return svg.append("text").text(s).attr("x", x0).attr("y", base).attr("font-size", size)
    .attr("fill", fill || "#1a1a1a").attr("textLength", x1 - x0).attr("lengthAdjust", "spacingAndGlyphs");
}

function vText(s, base, yBottom, yTop, size) {
  return svg.append("text").text(s).attr("transform", `translate(${base},${yBottom}) rotate(-90)`)
    .attr("font-size", size).attr("fill", "#1a1a1a").attr("textLength", yBottom - yTop).attr("lengthAdjust", "spacingAndGlyphs");
}

function downText(s, base, yTop, yBottom, size) {
  return svg.append("text").text(s).attr("transform", `translate(${base},${yTop}) rotate(90)`)
    .attr("font-size", size).attr("fill", "#1a1a1a").attr("textLength", yBottom - yTop).attr("lengthAdjust", "spacingAndGlyphs");
}

function letter(s, x, y) {
  svg.append("text").text(s).attr("x", x).attr("y", y).attr("font-size", 28).attr("fill", "#111");
}

function axes(x, y, f, o) {
  const color = o.color || "#333";
  const xa = d3.axisBottom(x).tickValues(o.xTicks).tickSize(3).tickFormat((d, i) => o.xLabels[i])
    .tickPadding(o.xBase - f.bottom - 3 - 0.71 * o.size);
  const ya = d3.axisLeft(y).tickValues(o.yTicks).tickSize(3).tickFormat((d, i) => o.yLabels[i])
    .tickPadding(f.left - 3 - o.yRight);
  const gx = svg.append("g").attr("transform", `translate(0,${f.bottom})`).call(xa);
  const gy = svg.append("g").attr("transform", `translate(${f.left},0)`).call(ya);
  [gx, gy].forEach((g) => {
    g.select(".domain").remove();
    g.selectAll("line").attr("stroke", "#555");
    g.selectAll("text").attr("font-size", o.size).attr("fill", color);
  });
  if (o.xShift) gx.selectAll("text").attr("transform", (d, i) => `translate(${o.xShift[i][0]},${o.xShift[i][1]})`);
  if (f.spine !== false) {
    svg.append("path").attr("d", `M${f.left},${f.top}V${f.bottom}H${f.right}`).attr("fill", "none")
      .attr("stroke", "#5a5a5a").attr("stroke-width", 1.6);
  }
}

function dots(x, y, data, r, fill) {
  svg.append("g").attr("fill", fill).selectAll("circle").data(data).join("circle")
    .attr("cx", (d) => x(d[0])).attr("cy", (d) => y(d[1])).attr("r", r);
}

function region(x, y, data, fill) {
  const line = d3.line().x((d) => x(d[0])).y((d) => y(d[1])).curve(d3.curveLinearClosed);
  svg.append("path").attr("d", line(data)).attr("fill", fill).attr("stroke", fill).attr("stroke-width", 2);
}

function fitLine(x, y, xs, ys, band) {
  const pts = xs.map((v, i) => [v, ys[i]]);
  const line = d3.line().x((d) => x(d[0])).y((d) => y(d[1]));
  if (band) svg.append("path").attr("d", line(pts)).attr("stroke", "#c9c9c9").attr("stroke-width", band).attr("fill", "none");
  svg.append("path").attr("d", line(pts)).attr("stroke", fit).attr("stroke-width", 2).attr("fill", "none");
}

function histogram(x, y, f, bins, counts, gridX, gridY) {
  svg.append("rect").attr("x", f.left).attr("y", f.top).attr("width", f.right - f.left).attr("height", f.bottom - f.top).attr("fill", "#ebebeb");
  gridX.forEach((v, i) => svg.append("line").attr("x1", x(v)).attr("x2", x(v)).attr("y1", f.top).attr("y2", f.bottom)
    .attr("stroke", "#fff").attr("stroke-width", i % 2 ? 0.7 : 1.3));
  gridY.forEach((v, i) => svg.append("line").attr("y1", y(v)).attr("y2", y(v)).attr("x1", f.left).attr("x2", f.right)
    .attr("stroke", "#fff").attr("stroke-width", i % 2 ? 0.7 : 1.3));
  svg.append("g").selectAll("rect").data(counts).join("rect")
    .attr("x", (d, i) => x(bins[i])).attr("width", (d, i) => x(bins[i + 1]) - x(bins[i]))
    .attr("y", (d) => y(d)).attr("height", (d) => y(0) - y(d))
    .attr("fill", "#5bb4e6").attr("stroke", "#2b3a44").attr("stroke-width", 1.2);
}

// A
{
  const f = { left: 72, right: 480, top: 72, bottom: 348, spine: false };
  const x = d3.scaleLinear().domain([-1, 1]).range([91, 462.7]);
  const y = d3.scaleLinear().domain([0, 750]).range([336, 119.3]);
  histogram(x, y, f, aBins, aCounts, [-1, -0.75, -0.5, -0.25, 0, 0.25, 0.5, 0.75, 1], [0, 125, 250, 375, 500, 625, 750, 875]);
  axes(x, y, f, { xTicks: [-1, -0.5, 0, 0.5, 1], xLabels: ["-1.0", "-0.5", "0.0", "0.5", "1.0"], yTicks: [0, 250, 500, 750], yLabels: ["0", "250", "500", "750"], xBase: 366, yRight: 67.7, size: 16, color: "#4d4d4d" });
  svg.append("g").selectAll("text").data(aCounts).join("text").text((d) => d)
    .attr("x", (d, i) => (x(aBins[i]) + x(aBins[i + 1])) / 2).attr("y", (d) => y(d) - 4)
    .attr("text-anchor", "middle").attr("font-size", 14).attr("fill", "#111");
  svg.append("line").attr("x1", 356).attr("x2", 360).attr("y1", 67.5).attr("y2", 67.5).attr("stroke", "#555");
  letter("A", 8, 26);
  hText("Protein-mRNA correlation (4540 shared genes)", 51.7, 498, 37, 21);
  hText("Spearman rho", 218, 352.5, 393, 21);
  vText("Count", 32, 217, 162, 21);
}

// B
{
  const f = { left: 640, right: 1074, top: 71, bottom: 344, spine: false };
  const x = d3.scaleLinear().domain([0, 100]).range([659.5, 1054.5]);
  const y = d3.scaleLinear().domain([0, 200]).range([332.7, 155.3]);
  histogram(x, y, f, bBins, bCounts, [0, 12.5, 25, 37.5, 50, 62.5, 75, 87.5, 100], [0, 50, 100, 150, 200, 250]);
  axes(x, y, f, { xTicks: [0, 25, 50, 75, 100], xLabels: ["0", "25", "50", "75", "100"], yTicks: [0, 100, 200], yLabels: ["0", "100", "200"], xBase: 359, yRight: 635.4, size: 12.5, color: "#4d4d4d" });
  svg.append("g").selectAll("text").data(bLabels).join("text").text((d) => d)
    .attr("x", (d, i) => (x(bBins[i]) + x(bBins[i + 1])) / 2).attr("y", (d, i) => y(bCounts[i]) - 3.5)
    .attr("text-anchor", "middle").attr("font-size", 12).attr("fill", "#111")
    .attr("textLength", 35.6).attr("lengthAdjust", "spacingAndGlyphs");
  letter("B", 585, 25);
  hText("Significantly correlated protein-mRNA pairs", 648, 1056.7, 36, 21);
  hText("in protein variation bins", 745.6, 966, 62, 21);
  hText("Protein variation bin (%)", 749, 975, 393, 21);
  vText("Count", 609, 217, 162, 21);
}

function corrPanel(x, y, f, core, loose, holes, redCore, redLoose, redHoles, blue, green, fx, fy, dotR, tickOpts) {
  region(x, y, core, gray);
  dots(x, y, loose, dotR, gray);
  svg.append("g").attr("fill", "#fff").selectAll("circle").data(holes).join("circle")
    .attr("cx", (d) => x(d[0])).attr("cy", (d) => y(d[1])).attr("r", (d, i) => 1.2 + (i % 3) * 0.6);
  region(x, y, redCore, red);
  dots(x, y, redLoose, dotR, red);
  dots(x, y, redHoles, 1.3, "#fff");
  dots(x, y, blue, dotR - 0.3, "#5f8bd3");
  dots(x, y, green, dotR - 0.3, "#1fb030");
  fitLine(x, y, fx, fy, 4);
  axes(x, y, f, tickOpts);
}

// C
{
  const f = { left: 1268.5, right: 1558, top: 59, bottom: 337 };
  const x = d3.scaleLinear().domain([-1, 1]).range([1273.3, 1547]);
  const y = d3.scaleLinear().domain([-1, 1]).range([335, 70.7]);
  corrPanel(x, y, f, cCore, cLoose, cHoles, cRed, cRedLoose, cRedHoles, cBlue, cGreen, cFitX, cFitY, 2.6, {
    xTicks: [-1, -0.5, 0, 0.5, 1], xLabels: ["-1.0", "-0.5", "0.0", "0.5", "1.0"],
    yTicks: [-1, -0.5, 0, 0.5, 1], yLabels: ["-1.0", "-0.5", "0.0", "0.5", "1.0"],
    xBase: 352.7, yRight: 1261.6, size: 11.5, color: "#5b5670" });
  letter("C", 1173.6, 26);
  hText("Protein-mRNA correlation in male and female", 1213.4, 1641, 41, 21);
  hText("Spearman_male", 1338.7, 1494, 377, 21);
  vText("Spearman_female", 1222, 285, 112, 21);
  [["Positive", "#ed1c24", 111.7, 1621, 1695.7, 118], ["Negative", "#00a651", 147, 1622, 1706, 155], ["Sex", "#0f6fbf", 195, 1624.4, 1660.5, 200.7]].forEach((l) => {
    svg.append("circle").attr("cx", 1598.7).attr("cy", l[2]).attr("r", 5).attr("fill", l[1]);
    hText(l[0], l[3], l[4], l[5], 21.5);
  });
  svg.append("line").attr("x1", 1710.8).attr("x2", 1710.8).attr("y1", 105).attr("y2", 220.7).attr("stroke", "#111").attr("stroke-width", 1.6);
  downText("Protein-mRNA Correlation", 1720, 63, 267, 17);
}

// D
{
  const f = { left: 67, right: 357, top: 519, bottom: 798 };
  const x = d3.scaleLinear().domain([-0.5, 1]).range([136, 346.7]);
  const y = d3.scaleLinear().domain([-1, 1]).range([792.7, 530.7]);
  corrPanel(x, y, f, dCore, dLoose, dHoles, dRed, dRedLoose, dRedHoles, dBlue, dGreen, dFitX, dFitY, 2.6, {
    xTicks: [-0.5, 0, 0.5, 1], xLabels: ["-0.5", "0.0", "0.5", "1.0"],
    yTicks: [-1, -0.5, 0, 0.5, 1], yLabels: ["-1.0", "-0.5", "0.0", "0.5", "1.0"],
    xBase: 813, yRight: 61, size: 12, color: "#5b5670" });
  letter("D", 10, 458);
  hText("Protein-mRNA correlation_Depot", 61, 372, 479, 20.5);
  hText("Spearman_visceral", 105, 288, 850.7, 20.5);
  vText("Spearman_inguinal", 21, 738, 557, 20.5);
  [["Positive", "#ed1c24", 600.7, 392.7, 466.7, 605.7], ["Negative", "#00a651", 636, 392, 475.7, 641], ["Depot", "#0f6fbf", 685, 393.7, 450, 693]].forEach((l) => {
    svg.append("circle").attr("cx", 373.7).attr("cy", l[2]).attr("r", 4.5).attr("fill", l[1]);
    hText(l[0], l[3], l[4], l[5], 21.5);
  });
  svg.append("line").attr("x1", 479).attr("x2", 479).attr("y1", 590).attr("y2", 705.7).attr("stroke", "#111").attr("stroke-width", 1.6);
  downText("Protein-mRNA Correlation", 487, 547.7, 752, 17);
}

// E
{
  const f = { left: 589, right: 982, top: 500.7, bottom: 801 };
  const x = d3.scaleLinear().domain([-3, 6]).range([671.7, 965]);
  const y = d3.scaleLinear().domain([-3, 6]).range([737.7, 514]);
  region(x, y, eCore, "#4a4a4a");
  dots(x, y, ePoints, 1.7, "#444");
  fitLine(x, y, eFitX, eFitY, 4);
  axes(x, y, f, { xTicks: [-3, 0, 3, 6], xLabels: ["-3", "0", "3", "6"], yTicks: [-3, 0, 3, 6], yLabels: ["-3", "0", "3", "6"], xBase: 818, yRight: 584, size: 16, xShift: [[2, 0], [0, 0], [0, 0], [12, 0]] });
  letter("E", 537, 458);
  hText("Fold change male APC-FIP_Protein vs mRNA", 563, 998, 479, 20.5);
  hText("log2_FC_RNA seq", 724, 900, 845.7, 20.5);
  vText("log2_FC_Protein", 560.7, 723, 564, 20.5);
  hText("Spearman rho=0.43", 594, 751.7, 519, 17);
  hText("p < 2.2e-16", 594, 684, 540.7, 17);
}

function volcano(x, y, f, vLines, hLine, redCore, redLoose, tealL, tealR, teal_, genes, gx, gy, labelOffsets, leaders, tickOpts) {
  region(x, y, tealL, teal);
  region(x, y, tealR, teal);
  dots(x, y, teal_, 1.9, teal);
  region(x, y, redCore, red);
  dots(x, y, redLoose, 1.8, red);
  const pts = genes.map((g, i) => [gx[i], gy[i]]);
  dots(x, y, pts, 2, "#111");
  vLines.forEach((v) => svg.append("line").attr("x1", x(v)).attr("x2", x(v)).attr("y1", f.top).attr("y2", f.bottom)
    .attr("stroke", "#333").attr("stroke-width", 1.1).attr("stroke-dasharray", "3,2.5"));
  svg.append("line").attr("x1", f.left).attr("x2", f.right).attr("y1", y(hLine)).attr("y2", y(hLine))
    .attr("stroke", "#333").attr("stroke-width", 1.1).attr("stroke-dasharray", "3,2.5");
  Object.entries(leaders).forEach(([name, d]) => {
    const i = genes.indexOf(name);
    svg.append("line").attr("x1", x(gx[i])).attr("y1", y(gy[i])).attr("x2", x(gx[i]) + d[0]).attr("y2", y(gy[i]) + d[1])
      .attr("stroke", "#333").attr("stroke-width", 0.8);
  });
  svg.append("g").selectAll("text").data(genes).join("text").text((d) => d)
    .attr("x", (d, i) => x(gx[i]) + labelOffsets[i][0]).attr("y", (d, i) => y(gy[i]) + labelOffsets[i][1])
    .attr("text-anchor", "middle").attr("font-size", 10.5).attr("fill", "#333");
  axes(x, y, f, tickOpts);
}

// G left
{
  const f = { left: 1069.3, right: 1419, top: 511.7, bottom: 777.7 };
  const x = d3.scaleLinear().domain([-6, 6]).range([1085.3, 1404.3]);
  const y = d3.scaleLinear().domain([0, 6]).range([765.3, 572]);
  const offs = [[-11,12],[-21,0],[8,-4],[-15,-1],[10,-10],[32,2],[1,16],[-20,2],[12,11],[-11,12],[8,-2],[-11,13],[-7,12],[9,-2],[-14,14],[9,-2],[-12,12],[8,-2],[13,12],[-10,12]];
  volcano(x, y, f, [-0.59, 0.56], 1.29, g1Red, g1RedLoose, g1TealLeft, g1TealRight, g1Teal, g1Genes, g1GeneX, g1GeneY, offs,
    { Uap1: [7, -9], Map6: [20, 0], Cd55: [-6, -2], Ptgs1: [6, -5] },
    { xTicks: [-6, -3, 0, 3, 6], xLabels: ["-6", "-3", "0", "3", "6"], yTicks: [0, 2, 4, 6], yLabels: ["0", "2", "4", "6"], xBase: 796, yRight: 1063, size: 16.5, xShift: [[3, 0], [1, 0], [3, 0], [0, 0], [-1, 0]] });
  letter("G", 1032, 458);
  hText("Male APC vs FIP_Protein top 10", 1095, 1402, 489, 20.5);
  hText("Log2_FC", 1210, 1296.7, 820, 21);
  vText("-Log10_p value", 1044, 716, 569, 20.5);
}

// G right
{
  const f = { left: 1449.3, right: 1799, top: 511.7, bottom: 776.7 };
  const x = d3.scaleLinear().domain([-6, 6]).range([1465, 1783.7]);
  const y = d3.scaleLinear().domain([0, 6]).range([764.3, 571.7]);
  const offs = [[-10,-2],[9,12],[15,12],[9,14],[9,-2],[-10,12],[-1,14],[-10,12],[-11,12],[9,-2],[-19,-7],[-29,7],[10,-2],[9,3],[-15,-2],[26,4],[-13,15],[9,-2],[9,-3],[-11,12]];
  volcano(x, y, f, [-0.6, 0.55], 1.3, g2Red, g2RedLoose, g2TealLeft, g2TealRight, g2Teal, g2Genes, g2GeneX, g2GeneY, offs,
    { Gnai1: [-5, -11], Apoe: [-18, 2], Prkar2b: [-5, 6] },
    { xTicks: [-6, -3, 0, 3, 6], xLabels: ["-6", "-3", "0", "3", "6"], yTicks: [0, 2, 4, 6], yLabels: ["0", "2", "4", "6"], xBase: 795, yRight: 1442.3, size: 16.5, xShift: [[3, 0], [2, 0], [3, 0], [1, 0], [0, 7]] });
  hText("Male APC vs FIP_Transcript top 10", 1461, 1793, 489, 20.5);
  hText("Log2_FC", 1587, 1674, 820, 21);
}

function smallScatter(x, y, f, points, fx, fy, tickOpts) {
  dots(x, y, points, 2, "#444");
  fitLine(x, y, fx, fy, 0);
  axes(x, y, f, tickOpts);
}

// F1
{
  const f = { left: 61.7, right: 335, top: 945, bottom: 1182.3 };
  const x = d3.scaleLinear().domain([1, 5]).range([103, 296.7]);
  const y = d3.scaleLinear().domain([1, 3]).range([1126.7, 1004.7]);
  smallScatter(x, y, f, f1Points, f1FitX, f1FitY, { xTicks: [1, 2, 3, 4, 5], xLabels: ["1", "2", "3", "4", "5"], yTicks: [1, 2, 3], yLabels: ["1", "2", "3"], xBase: 1200.7, yRight: 53, size: 16 });
  letter("F", 1, 903);
  hText("Total GO-Gluatothione metabolism", 38, 365, 930, 20.5);
  hText("Male APC-FIP_FC_Protein", 78, 332, 1224, 21);
  vText("Male APC-FIP_FC_mRNA", 30, 1202, 954, 21);
  hText("Spearman rho=0.92", 64, 221.7, 960, 17);
  hText("p < 2.2e-16", 64, 154, 981.7, 17);
}

// F2
{
  const f = { left: 513.3, right: 786.7, top: 945, bottom: 1182.7 };
  const x = d3.scaleLinear().domain([0.5, 2.5]).range([554.7, 774.3]);
  const y = d3.scaleLinear().domain([0.75, 2]).range([1171.7, 953.3]);
  smallScatter(x, y, f, f2Points, f2FitX, f2FitY, { xTicks: [0.5, 1, 1.5, 2, 2.5], xLabels: ["0.5", "1", "1.5", "2.0", "2.5"], yTicks: [0.75, 1, 1.25, 1.5, 1.75, 2], yLabels: ["0.75", "1.00", "1.25", "1.50", "1.75", "2.00"], xBase: 1201.7, yRight: 506, size: 16.5 });
  hText("Total GO-Fatty acid metabolism", 496, 795, 931, 20.5);
  hText("Male APC-FIP_FC_Protein", 526, 781, 1225, 21);
  vText("Male APC-FIP_FC_mRNA", 458, 1186, 937, 21);
  hText("Spearman rho=0.43", 516, 673, 959, 17);
  hText("p < 0.01", 516, 579, 981, 17);
}

// F3
{
  const f = { left: 989, right: 1262.3, top: 944.3, bottom: 1182.7 };
  const x = d3.scaleLinear().domain([0.4, 1.6]).range([1032.7, 1252.3]);
  const y = d3.scaleLinear().domain([0.75, 1.5]).range([1182.7, 999]);
  smallScatter(x, y, f, f3Points, f3FitX, f3FitY, { xTicks: [0.4, 0.8, 1.2, 1.6], xLabels: ["0.4", "0.8", "1.2", "1.6"], yTicks: [0.75, 1, 1.25, 1.5], yLabels: ["0.75", "1.00", "1.25", "1.50"], xBase: 1201.7, yRight: 981.7, size: 16.5, xShift: [[0, 0], [0, 0], [0, 0], [2, 0]] });
  hText("Total GO-Fatty acid biosynthesis", 968, 1276, 930, 20.5);
  hText("Male APC-FIP_FC_Protein", 1001.7, 1256.7, 1222.7, 21);
  vText("Male APC-FIP_FC_mRNA", 938, 1187, 937, 21);
  hText("Spearman rho=0.37", 993, 1150, 959, 17);
  hText("p = 0.34", 993, 1056.7, 981.7, 17);
}

// F4
{
  const f = { left: 1460.7, right: 1735.7, top: 943, bottom: 1182.7 };
  const x = d3.scaleLinear().domain([1.2, 1.5]).range([1486.7, 1731.7]);
  const y = d3.scaleLinear().domain([0.65, 0.85]).range([1182.3, 989]);
  smallScatter(x, y, f, f4Points, f4FitX, f4FitY, { xTicks: [1.2, 1.3, 1.4, 1.5], xLabels: ["1.2", "1.3", "1.4", "1.5"], yTicks: [0.65, 0.7, 0.75, 0.8, 0.85], yLabels: f4YTickLabels, xBase: 1201.7, yRight: 1451.7, size: 16.5, xShift: [[2, 0], [2, 0], [1, 0], [2, 0]] });
  hText("9 Ribosomal proteins", 1459, 1660, 930, 20.5);
  hText("Male APC-FIP_FC_Protein", 1479, 1732.7, 1222.7, 21);
  vText("Male APC-FIP_FC_mRNA", 1408, 1187, 937, 21);
  hText("Spearman rho=-0.7", 1545, 1698, 953, 17);
  hText("p = 0.04", 1545, 1609, 975, 17);
}
</script>
</body>
</html>
